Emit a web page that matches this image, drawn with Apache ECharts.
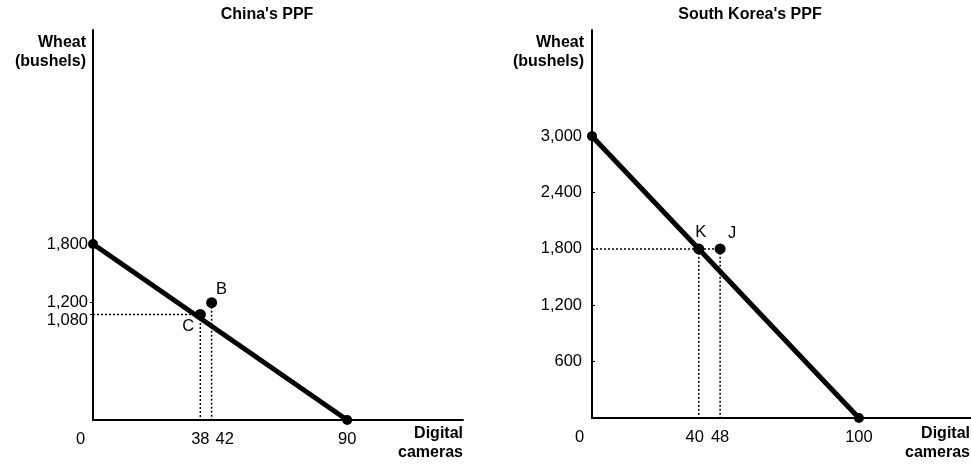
<!DOCTYPE html>
<html>
<head>
<meta charset="utf-8">
<script src="https://cdn.jsdelivr.net/npm/echarts@6/dist/echarts.min.js"></script>
<style>html,body{margin:0;padding:0;background:#fff}#c{width:971px;height:468px}</style>
</head>
<body>
<div id="c"></div>
<script>
// ---- China ----
const chinaTitle = "China's PPF";
const chinaPpfX = [0, 90];
const chinaPpfY = [1800, 0];
const chinaPointNames = ['C', 'B'];
const chinaPointX = [38, 42];
const chinaPointY = [1080, 1200];
const chinaXTicks = [0, 38, 42, 90];
const chinaYTicks = [1080, 1200, 1800];

// ---- South Korea ----
const koreaTitle = "South Korea's PPF";
const koreaPpfX = [0, 100];
const koreaPpfY = [3000, 0];
const koreaPointNames = ['K', 'J'];
const koreaPointX = [40, 48];
const koreaPointY = [1800, 1800];
const koreaXTicks = [0, 40, 48, 100];
const koreaYTicks = [600, 1200, 1800, 2400, 3000];

const yName = ['Wheat', '(bushels)'];
const xName = ['Digital', 'cameras'];

const FONT = 'Liberation Sans, Arial, sans-serif';
const LBL = 16.5;
const zip = (a, b) => a.map((v, i) => [v, b[i]]);

// label nudges (style only) to keep close labels apart as in the drawing
const xLabelStyle = [{ 0: 'z', 42: 'r' }, { 0: 'z', 40: 'l' }];
const yLabelStyle = [{ 1080: 'd' }, {}];
const baseRich = { fontFamily: FONT, fontSize: LBL, color: '#000' };

function xAxis(idx, max, ticks) {
  return {
    type: 'value', gridIndex: idx, min: 0, max: max,
    splitLine: { show: false },
    axisLine: { show: true, lineStyle: { color: '#000', width: 2 } },
    axisTick: { show: false },
    axisLabel: {
      customValues: ticks, margin: 11, color: '#000', fontFamily: FONT, fontSize: LBL, hideOverlap: false,
      formatter: v => {
        const s = String(v);
        const k = xLabelStyle[idx][v];
        return k ? '{' + k + '|' + s + '}' : s;
      },
      rich: {
        z: Object.assign({ padding: [0, 25, 0, 0] }, baseRich),
        r: Object.assign({ padding: [0, 0, 0, 26] }, baseRich),
        l: Object.assign({ padding: [0, 8, 0, 0] }, baseRich)
      }
    }
  };
}
function yAxis(idx, max, ticks, margin, inside) {
  return {
    type: 'value', gridIndex: idx, min: 0, max: max,
    splitLine: { show: false },
    axisLine: { show: true, lineStyle: { color: '#000', width: 2 } },
    axisTick: { show: true, customValues: ticks, length: 3, inside: inside, lineStyle: { color: '#000', width: 1 } },
    axisLabel: {
      customValues: ticks, margin: margin, color: '#000', fontFamily: FONT, fontSize: LBL, hideOverlap: false,
      formatter: v => {
        const s = v.toLocaleString('en-US');
        const k = yLabelStyle[idx][v];
        return k ? '{' + k + '|' + s + '}' : s;
      },
      rich: { d: Object.assign({ padding: [12, 0, 0, 0] }, baseRich) }
    }
  };
}
function ppfSeries(idx, xs, ys) {
  return {
    type: 'line', xAxisIndex: idx, yAxisIndex: idx, data: zip(xs, ys),
    symbol: 'circle', symbolSize: 10, showSymbol: true, z: 5,
    lineStyle: { color: '#000', width: 5 }, itemStyle: { color: '#000', opacity: 1 },
    animation: false, silent: true
  };
}
function guide(idx, pts) {
  return {
    type: 'line', xAxisIndex: idx, yAxisIndex: idx, data: pts,
    symbol: 'none', z: 2,
    lineStyle: { color: '#000', width: 1.5, type: [2, 2] },
    animation: false, silent: true
  };
}
function pointSeries(idx, names, xs, ys, offsets) {
  return {
    type: 'scatter', xAxisIndex: idx, yAxisIndex: idx, z: 6,
    symbol: 'circle', symbolSize: 11, itemStyle: { color: '#000', opacity: 1 },
    data: names.map((n, i) => ({
      name: n, value: [xs[i], ys[i]],
      label: { show: true, position: 'inside', offset: offsets[i], formatter: n,
               color: '#000', fontFamily: FONT, fontSize: LBL }
    })),
    animation: false, silent: true
  };
}
function text(x, y, str, align, bold) {
  return { type: 'text', x: x, y: y, style: { text: str, textAlign: align, textVerticalAlign: 'top',
    font: (bold ? 'bold ' : '') + '16px ' + FONT, fill: '#000', lineHeight: 19 } };
}

const chart = echarts.init(document.getElementById('c'), null, { renderer: 'canvas' });
chart.setOption({
  animation: false,
  grid: [
    { left: 93, top: 30, width: 370, height: 390 },
    { left: 592, top: 30, width: 379, height: 388 }
  ],
  xAxis: [xAxis(0, 131, chinaXTicks), xAxis(1, 142, koreaXTicks)],
  yAxis: [yAxis(0, 3990, chinaYTicks, 5, false), yAxis(1, 4130, koreaYTicks, 10, true)],
  series: [
    guide(0, [[0, chinaPointY[0]], [chinaPointX[0], chinaPointY[0]], [chinaPointX[0], 0]]),
    guide(0, [[chinaPointX[1], chinaPointY[1]], [chinaPointX[1], 0]]),
    ppfSeries(0, chinaPpfX, chinaPpfY),
    pointSeries(0, chinaPointNames, chinaPointX, chinaPointY, [[-12, 12], [10, -13]]),
    guide(1, [[0, koreaPointY[1]], [koreaPointX[1], koreaPointY[1]], [koreaPointX[1], 0]]),
    guide(1, [[koreaPointX[0], koreaPointY[0]], [koreaPointX[0], 0]]),
    ppfSeries(1, koreaPpfX, koreaPpfY),
    pointSeries(1, koreaPointNames, koreaPointX, koreaPointY, [[2, -16], [12, -15]])
  ],
  graphic: [
    text(267, 5, chinaTitle, 'center', true),
    text(750, 5, koreaTitle, 'center', true),
    text(86, 33, yName.join('\n'), 'right', true),
    text(584, 33, yName.join('\n'), 'right', true),
    text(463, 424, xName.join('\n'), 'right', true),
    text(970, 424, xName.join('\n'), 'right', true)
  ]
});
</script>
</body>
</html>
